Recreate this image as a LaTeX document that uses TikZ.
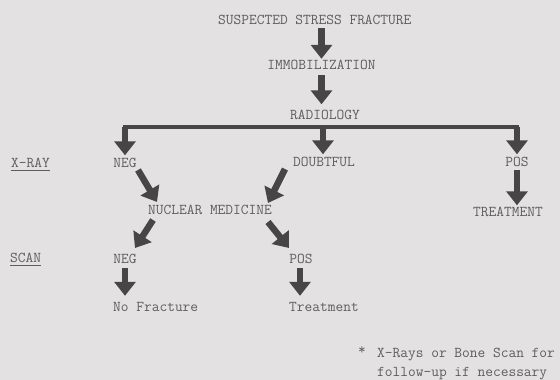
\documentclass[tikz,border=0pt]{standalone}
\usetikzlibrary{arrows.meta,calc}
\definecolor{bgc}{HTML}{E3E1E1}
\definecolor{textc}{HTML}{5E5C5C}
\definecolor{arrowc}{HTML}{474545}
\tikzset{
  lbl/.style={inner sep=0pt, text height=9pt, text depth=0pt, font=\fontsize{15}{17}\selectfont\ttfamily, text=textc},
  bigarrow/.style={draw=arrowc, line width=6.5pt, -{Triangle[width=21pt,length=14pt]}},
  barline/.style={draw=arrowc, line width=3.5pt},
  ulline/.style={draw=textc, line width=0.8pt}
}
\begin{document}
\begin{tikzpicture}[x=1pt,y=-1pt]
\fill[bgc] (0,0) rectangle (560,380);
\useasboundingbox (0,0) rectangle (560,380);
% nodes
\node[lbl, anchor=west] (title) at (218,20) {SUSPECTED STRESS FRACTURE};
\node[lbl] (imm) at (321.5,65) {IMMOBILIZATION};
\node[lbl] (rad) at (325,115) {RADIOLOGY};
\node[lbl, anchor=west] (xray) at (11,163) {X-RAY};
\node[lbl] (negx) at (125,163) {NEG};
\node[lbl] (doubt) at (324,162) {DOUBTFUL};
\node[lbl] (posx) at (517,162) {POS};
\node[lbl] (nm) at (210,210) {NUCLEAR MEDICINE};
\node[lbl] (treatx) at (508,212) {TREATMENT};
\node[lbl, anchor=west] (scan) at (10,258) {SCAN};
\node[lbl] (negs) at (125,259) {NEG};
\node[lbl] (poss) at (301,259) {POS};
\node[lbl, anchor=west] (nofrac) at (113,307) {No Fracture};
\node[lbl, anchor=west] (treats) at (289,307) {Treatment};
\node[lbl] (star) at (362,350) {*};
\node[lbl, anchor=west] (foot1) at (377,353) {X-Rays or Bone Scan for};
\node[lbl, anchor=west] (foot2) at (377,372) {follow-up if necessary};
% underlines
\draw[ulline] ([yshift=-2.5pt]xray.south west) -- ([yshift=-2.5pt]xray.south east);
\draw[ulline] ([yshift=-2.5pt]scan.south west) -- ([yshift=-2.5pt]scan.south east);
% vertical arrows at top
\draw[bigarrow, shorten <=3.5pt, shorten >=1.5pt] (imm.north |- title.south) -- (imm.north);
\draw[bigarrow, shorten <=5.5pt, shorten >=6pt] (imm.south) -- (imm.south |- rad.north);
% bar
\coordinate (barL) at (125,127);
\coordinate (barM) at (323,127);
\coordinate (barR) at (517,127);
\draw[barline] ([xshift=-1.75pt]barL) -- ([xshift=1.75pt]barR);
\draw[bigarrow, shorten >=3pt] (barL) -- (negx.north);
\draw[bigarrow, shorten >=3pt] (barM) -- (barM |- doubt.north);
\draw[bigarrow, shorten >=3pt] (barR) -- (posx.north);
% x-ray row to NM / treatment
\coordinate (d1s) at (138,170);
\coordinate (d1e) at (157,202);
\draw[bigarrow] (d1s) -- (d1e);
\coordinate (d2s) at (285,169);
\coordinate (d2e) at (268,203);
\draw[bigarrow] (d2s) -- (d2e);
\draw[bigarrow, shorten <=3pt, shorten >=2pt] (posx.south) -- (posx.south |- treatx.north);
% NM to scan row
\coordinate (d3s) at (153,220);
\coordinate (d3e) at (135,248);
\draw[bigarrow] (d3s) -- (d3e);
\coordinate (d4s) at (268,222);
\coordinate (d4e) at (289,248);
\draw[bigarrow] (d4s) -- (d4e);
% scan row to results
\draw[bigarrow, shorten <=4.5pt, shorten >=6.5pt] (negs.south) -- (negs.south |- nofrac.north);
\draw[bigarrow, shorten <=4.5pt, shorten >=6.5pt] ([xshift=-1pt]poss.south) -- ([xshift=-1pt]poss.south |- treats.north);
\end{tikzpicture}
\end{document}
